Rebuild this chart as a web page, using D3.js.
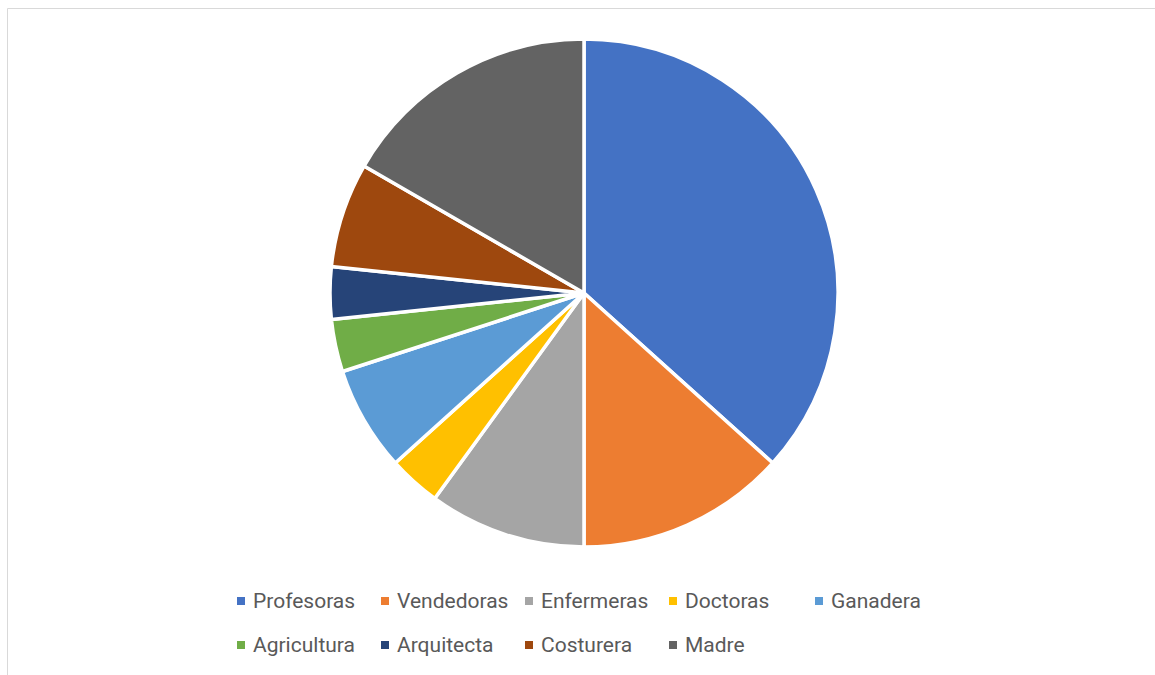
<!DOCTYPE html>
<html>
<head>
<meta charset="utf-8">
<script src="https://cdn.jsdelivr.net/npm/d3@7"></script>
<style>
  body { margin: 0; background: #fff; }
  svg { display: block; }
</style>
</head>
<body>
<svg id="chart" width="1155" height="675"></svg>
<script>
const categories = ["Profesoras", "Vendedoras", "Enfermeras", "Doctoras", "Ganadera",
                    "Agricultura", "Arquitecta", "Costurera", "Madre"];
const values = [11, 4, 3, 1, 2, 1, 1, 2, 5];
const colors = ["#4472C4", "#ED7D31", "#A5A5A5", "#FFC000", "#5B9BD5",
                "#70AD47", "#264478", "#9E480E", "#636363"];

const svg = d3.select("#chart");

// chart area border (only left + top visible in the shot)
svg.append("path")
    .attr("d", "M7.5,675 L7.5,8.5 L1155,8.5")
    .attr("fill", "none")
    .attr("stroke", "#d9d9d9")
    .attr("stroke-width", 1);

const data = categories.map((c, i) => ({ name: c, value: values[i] }));

const pie = d3.pie().value(d => d.value).sort(null);
const arc = d3.arc().innerRadius(0).outerRadius(254);

const color = d3.scaleOrdinal().domain(categories).range(colors);

const g = svg.append("g").attr("transform", "translate(584,293)");

g.selectAll("path")
    .data(pie(data))
    .enter()
    .append("path")
    .attr("d", arc)
    .attr("fill", d => color(d.data.name))
    .attr("stroke", "#fff")
    .attr("stroke-width", 3.5)
    .attr("stroke-linejoin", "round");

// legend: 5 per row
const legend = svg.append("g");
const item = legend.selectAll("g")
    .data(categories)
    .enter()
    .append("g")
    .attr("transform", (d, i) => {
        const col = i % 5, row = Math.floor(i / 5);
        const x = col === 4 ? 815 : 237 + col * 144;
        return "translate(" + x + "," + (601 + row * 44) + ")";
    });

item.append("rect")
    .attr("x", 0)
    .attr("y", -4)
    .attr("width", 8)
    .attr("height", 8)
    .attr("fill", d => color(d));

item.append("text")
    .attr("x", 16)
    .attr("y", 0)
    .attr("dy", "0.35em")
    .attr("font-family", "Roboto, 'Noto Sans', sans-serif")
    .attr("font-size", 21)
    .attr("fill", "#595959")
    .text(d => d);
</script>
</body>
</html>
